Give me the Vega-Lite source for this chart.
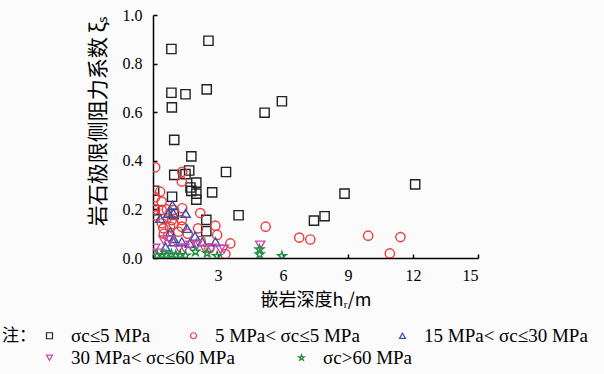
{
 "$schema": "https://vega.github.io/schema/vega-lite/v6.json",
 "width": 325,
 "height": 243,
 "autosize": {"type": "none"},
 "padding": {"left": 153, "top": 15, "right": 126, "bottom": 116},
 "background": "#fbfbfb",
 "config": {
  "view": {"stroke": null},
  "font": "Liberation Serif",
  "legend": {"orient": "none", "direction": "horizontal", "titleOrient": "left", "titleFont": "Noto Sans CJK SC",
   "titleFontSize": 17, "titleFontWeight": "normal", "titleColor": "#000", "titlePadding": 4,
   "labelFont": "Liberation Serif", "labelFontSize": 19, "labelColor": "#000", "labelLimit": 400,
   "symbolSize": 36, "symbolStrokeWidth": 1.2, "labelOffset": 12}
 },
 "data": {"values": [
  {"g":"A","x":0.85,"y":0.86},{"g":"A","x":2.56,"y":0.894},{"g":"A","x":0.85,"y":0.68},{"g":"A","x":1.5,"y":0.674},
  {"g":"A","x":2.48,"y":0.694},{"g":"A","x":0.87,"y":0.62},{"g":"A","x":5.15,"y":0.598},{"g":"A","x":5.95,"y":0.645},
  {"g":"A","x":0.98,"y":0.486},{"g":"A","x":1.77,"y":0.418},{"g":"A","x":0.98,"y":0.342},{"g":"A","x":1.67,"y":0.36},
  {"g":"A","x":1.5,"y":0.345},{"g":"A","x":3.37,"y":0.354},{"g":"A","x":1.73,"y":0.29},{"g":"A","x":2.0,"y":0.31},
  {"g":"A","x":1.77,"y":0.276},{"g":"A","x":2.0,"y":0.265},{"g":"A","x":2.0,"y":0.24},{"g":"A","x":2.73,"y":0.27},
  {"g":"A","x":0.05,"y":0.277},{"g":"A","x":0.88,"y":0.252},{"g":"A","x":0.06,"y":0.197},{"g":"A","x":0.96,"y":0.18},
  {"g":"A","x":3.95,"y":0.176},{"g":"A","x":2.46,"y":0.157},{"g":"A","x":2.46,"y":0.11},{"g":"A","x":7.43,"y":0.154},
  {"g":"A","x":7.92,"y":0.172},{"g":"A","x":8.84,"y":0.265},{"g":"A","x":12.1,"y":0.303},
  {"g":"B","x":0.1,"y":0.373},{"g":"B","x":1.35,"y":0.355},{"g":"B","x":1.33,"y":0.315},{"g":"B","x":0.33,"y":0.273},
  {"g":"B","x":0.1,"y":0.25},{"g":"B","x":0.4,"y":0.232},{"g":"B","x":0.1,"y":0.2},{"g":"B","x":0.4,"y":0.198},
  {"g":"B","x":0.64,"y":0.2},{"g":"B","x":0.95,"y":0.198},{"g":"B","x":0.1,"y":0.175},{"g":"B","x":0.48,"y":0.16},
  {"g":"B","x":0.87,"y":0.156},{"g":"B","x":1.33,"y":0.156},{"g":"B","x":1.35,"y":0.205},{"g":"B","x":2.18,"y":0.185},
  {"g":"B","x":0.41,"y":0.143},{"g":"B","x":0.95,"y":0.14},{"g":"B","x":0.48,"y":0.122},{"g":"B","x":0.79,"y":0.129},
  {"g":"B","x":1.33,"y":0.129},{"g":"B","x":1.17,"y":0.108},{"g":"B","x":0.5,"y":0.1},{"g":"B","x":2.08,"y":0.122},
  {"g":"B","x":2.88,"y":0.133},{"g":"B","x":2.96,"y":0.095},{"g":"B","x":3.57,"y":0.06},{"g":"B","x":3.34,"y":0.016},
  {"g":"B","x":5.2,"y":0.129},{"g":"B","x":6.75,"y":0.084},{"g":"B","x":7.26,"y":0.076},{"g":"B","x":9.93,"y":0.092},
  {"g":"B","x":11.42,"y":0.086},{"g":"B","x":10.93,"y":0.019},{"g":"B","x":1.6,"y":0.1},{"g":"B","x":2.2,"y":0.07},
  {"g":"B","x":2.6,"y":0.04},{"g":"B","x":0.7,"y":0.09},
  {"g":"C","x":0.9,"y":0.218},{"g":"C","x":0.94,"y":0.184},{"g":"C","x":0.33,"y":0.163},{"g":"C","x":1.51,"y":0.184},
  {"g":"C","x":0.71,"y":0.184},{"g":"C","x":1.56,"y":0.122},{"g":"C","x":0.8,"y":0.108},{"g":"C","x":0.95,"y":0.08},
  {"g":"C","x":1.94,"y":0.09},{"g":"C","x":1.33,"y":0.067},{"g":"C","x":0.94,"y":0.067},{"g":"C","x":2.27,"y":0.067},
  {"g":"C","x":2.88,"y":0.067},{"g":"C","x":0.58,"y":0.045},{"g":"C","x":1.7,"y":0.06},
  {"g":"D","x":0.1,"y":0.04},{"g":"D","x":0.48,"y":0.074},{"g":"D","x":0.79,"y":0.074},{"g":"D","x":1.73,"y":0.053},
  {"g":"D","x":2.03,"y":0.053},{"g":"D","x":3.11,"y":0.036},{"g":"D","x":3.27,"y":0.036},{"g":"D","x":4.95,"y":0.053},
  {"g":"D","x":0.3,"y":0.02},{"g":"D","x":1.2,"y":0.04},{"g":"D","x":2.4,"y":0.035},{"g":"D","x":2.7,"y":0.04},
  {"g":"D","x":1.45,"y":0.04},
  {"g":"E","x":0.42,"y":0.012},{"g":"E","x":0.6,"y":0.012},{"g":"E","x":0.85,"y":0.015},{"g":"E","x":1.05,"y":0.012},
  {"g":"E","x":1.25,"y":0.012},{"g":"E","x":1.96,"y":0.026},{"g":"E","x":2.96,"y":0.008},{"g":"E","x":4.92,"y":0.035},
  {"g":"E","x":4.92,"y":0.015},{"g":"E","x":5.95,"y":0.008},{"g":"E","x":0.2,"y":0.01},{"g":"E","x":1.5,"y":0.01},
  {"g":"E","x":2.5,"y":0.02}
 ]},
 "transform": [
  {"lookup": "g", "from": {"data": {"values": [
   {"g":"A","label":"σc≤5 MPa"},
   {"g":"B","label":"5 MPa< σc≤5 MPa"},
   {"g":"C","label":"15 MPa< σc≤30 MPa"},
   {"g":"D","label":"30 MPa< σc≤60 MPa"},
   {"g":"E","label":"σc>60 MPa"}
  ]}, "key": "g", "fields": ["label"]}}
 ],
 "encoding": {
  "x": {"field": "x", "type": "quantitative",
   "scale": {"domain": [0, 15], "nice": false, "zero": false},
   "axis": {"title": "嵌岩深度hᵣ/m", "values": [0, 3, 6, 9, 12, 15], "labelExpr": "datum.value == 0 ? '' : datum.label",
    "grid": false, "domainColor": "#000", "domainWidth": 1.5, "tickColor": "#000", "tickWidth": 1.5, "tickSize": -4,
    "labelFont": "Liberation Serif", "labelFontSize": 16, "labelColor": "#000", "labelPadding": 13,
    "titleFont": "Noto Sans CJK SC", "titleFontSize": 18, "titleFontWeight": "normal", "titleColor": "#000", "titlePadding": 8}},
  "y": {"field": "y", "type": "quantitative",
   "scale": {"domain": [0, 1], "nice": false},
   "axis": {"title": "岩石极限侧阻力系数 ξₛ", "values": [0, 0.2, 0.4, 0.6, 0.8, 1], "format": ".1f",
    "grid": false, "domainColor": "#000", "domainWidth": 1.5, "tickColor": "#000", "tickWidth": 1.5, "tickSize": -4,
    "labelFont": "Liberation Serif", "labelFontSize": 16, "labelColor": "#000", "labelPadding": 15,
    "titleFont": "Noto Sans CJK SC", "titleFontSize": 21, "titleFontWeight": "normal", "titleColor": "#000",
    "titleAnchor": "end", "titlePadding": 14}}
 },
 "layer": [
  {
   "transform": [{"filter": {"field": "g", "oneOf": ["A", "B", "C"]}}],
   "mark": {"type": "point", "filled": false, "strokeWidth": 1.4, "size": 85, "clip": true, "opacity": 1},
   "encoding": {
    "color": {"field": "label", "type": "nominal",
     "scale": {"domain": ["σc≤5 MPa", "5 MPa< σc≤5 MPa", "15 MPa< σc≤30 MPa"], "range": ["#222222", "#f03a3a", "#3a4fa8"]},
     "legend": {"legendX": -151, "legendY": 311, "title": "注：", "columnPadding": 33}},
    "shape": {"field": "label", "type": "nominal",
     "scale": {"domain": ["σc≤5 MPa", "5 MPa< σc≤5 MPa", "15 MPa< σc≤30 MPa"], "range": ["square", "circle", "triangle-up"]},
     "legend": {"legendX": -151, "legendY": 311, "title": "注：", "columnPadding": 33}},
    "order": {"field": "g", "sort": "ascending"}
   }
  },
  {
   "transform": [{"filter": {"field": "g", "oneOf": ["D", "E"]}}],
   "mark": {"type": "point", "filled": false, "strokeWidth": 1.4, "size": 85, "clip": true, "opacity": 1},
   "encoding": {
    "color": {"field": "label", "type": "nominal",
     "scale": {"domain": ["30 MPa< σc≤60 MPa", "σc>60 MPa"], "range": ["#c848a8", "#1f8f3f"]},
     "legend": {"legendX": -113, "legendY": 333, "title": null, "columnPadding": 57}},
    "shape": {"field": "label", "type": "nominal",
     "scale": {"domain": ["30 MPa< σc≤60 MPa", "σc>60 MPa"],
      "range": ["triangle-down", "M0,-1L0.2245,-0.309L0.951,-0.309L0.363,0.118L0.588,0.809L0,0.382L-0.588,0.809L-0.363,0.118L-0.951,-0.309L-0.2245,-0.309Z"]},
     "legend": {"legendX": -113, "legendY": 333, "title": null, "columnPadding": 57}},
    "order": {"field": "g", "sort": "ascending"}
   }
  }
 ],
 "resolve": {"scale": {"color": "independent", "shape": "independent"}, "legend": {"color": "independent", "shape": "independent"}}
}
